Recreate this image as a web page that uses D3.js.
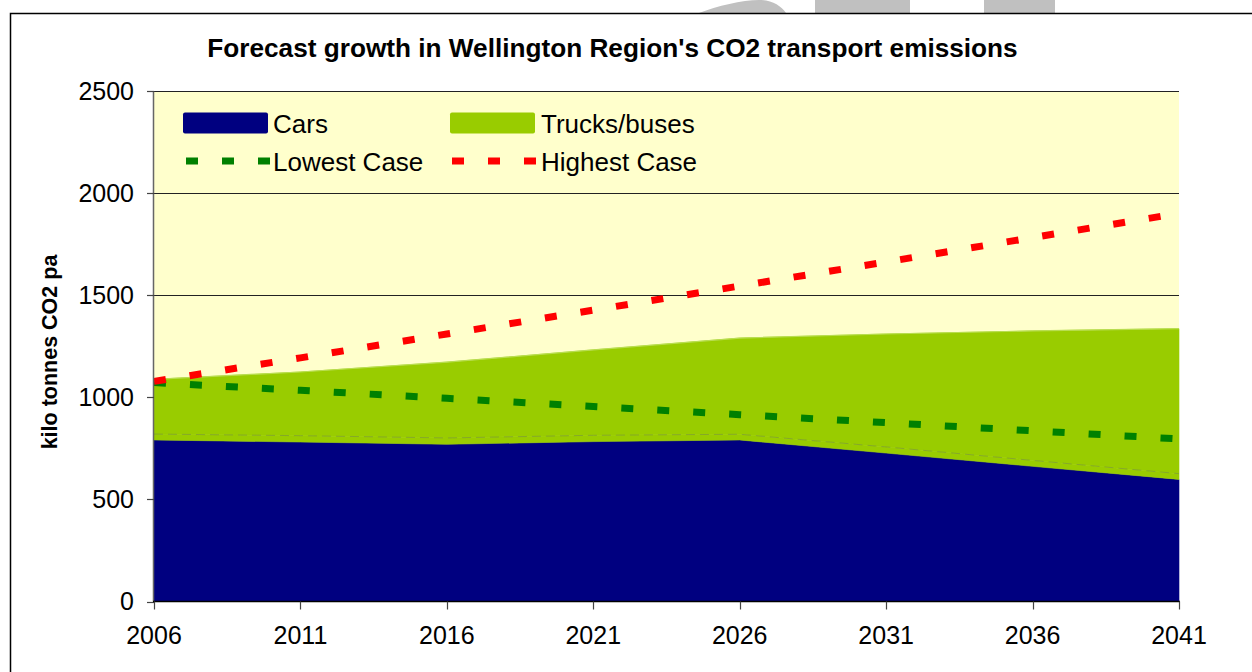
<!DOCTYPE html>
<html>
<head>
<meta charset="utf-8">
<script src="https://cdn.jsdelivr.net/npm/d3@7"></script>
<style>
  html, body { margin: 0; padding: 0; background: #fff; }
  svg { display: block; font-family: Arial, "Liberation Sans", sans-serif; }
</style>
</head>
<body>
<svg id="chart" width="1252" height="672"></svg>
<script>
// ---- data ----
const years = [2006, 2011, 2016, 2021, 2026, 2031, 2036, 2041];
const cars = [791, 781, 770, 783, 791, 727, 662, 598];
const buses = [29, 31, 31, 31, 28, 30, 29, 28];
const trucks = [268, 312, 371, 418, 471, 553, 634, 710];
const lowestCase = [1072, 1034, 995, 955, 915, 876, 836, 796];
const highestCase = [1078, 1193, 1310, 1427, 1545, 1663, 1782, 1901];
const yTicks = [0, 500, 1000, 1500, 2000, 2500];
const titleText = "Forecast growth in Wellington Region's CO2 transport emissions";
const yLabel = "kilo tonnes CO2 pa";
const legendItems = [
  { label: "Cars", type: "area", color: "#000080" },
  { label: "Trucks/buses", type: "area", color: "#99cc00" },
  { label: "Lowest Case", type: "dash", color: "#008000" },
  { label: "Highest Case", type: "dash", color: "#ff0000" }
];

(function () {
// ---- layout ----
const svg = d3.select("#chart");
const pL = 154, pR = 1179, pT = 91, pB = 601.5;
const x = d3.scaleLinear().domain([2006, 2041]).range([pL, pR]);
const y = d3.scaleLinear().domain([0, 2500]).range([pB, pT]);

// background decorative shapes behind frame (top)
svg.append("path")
  .attr("d", "M699,13 C717,6 742,0 759,0 C772,0 781,6 786,13 Z")
  .attr("fill", "#c0c0c0");
svg.append("rect").attr("x", 815).attr("y", 0).attr("width", 95).attr("height", 13).attr("fill", "#c0c0c0");
svg.append("rect").attr("x", 984).attr("y", 0).attr("width", 71).attr("height", 13).attr("fill", "#c0c0c0");

// outer frame
svg.append("rect").attr("x", 10.5).attr("y", 13.5).attr("width", 1260).attr("height", 700)
  .attr("fill", "#fff").attr("stroke", "#000").attr("stroke-width", 1.5);

// plot background
svg.append("rect").attr("x", pL).attr("y", pT).attr("width", pR - pL).attr("height", pB - pT)
  .attr("fill", "#ffffcc");

// gridlines
svg.append("g").selectAll("line").data(yTicks.filter(d => d > 0)).join("line")
  .attr("x1", pL).attr("x2", pR)
  .attr("y1", d => Math.round(y(d)) + 0.5).attr("y2", d => Math.round(y(d)) + 0.5)
  .attr("stroke", "#222").attr("stroke-width", 1);

// stacked areas
const rows = years.map((yr, i) => ({ year: yr, cars: cars[i], buses: buses[i], trucks: trucks[i] }));
const stack = d3.stack().keys(["cars", "buses", "trucks"]);
const series = stack(rows);
const colors = { cars: "#000080", buses: "#99cc00", trucks: "#99cc00" };
const area = d3.area()
  .x(d => x(d.data.year))
  .y0(d => y(d[0]))
  .y1(d => y(d[1]));
svg.append("g").selectAll("path").data(series).join("path")
  .attr("d", area)
  .attr("fill", d => colors[d.key])
  .attr("stroke", d => colors[d.key])
  .attr("stroke-width", 0.6);

// faint boundary between buses and trucks layers
const boundary = d3.line().x(d => x(d.data.year)).y(d => y(d[1]));
svg.append("path").datum(series[1]).attr("d", boundary)
  .attr("fill", "none").attr("stroke", "#7a9a35").attr("stroke-opacity", 0.7)
  .attr("stroke-width", 1).attr("stroke-dasharray", "9,5");
// light edge on top of total
svg.append("path").datum(series[2]).attr("d", boundary)
  .attr("fill", "none").attr("stroke", "#b8dd50").attr("stroke-width", 1.2);

// scenario lines
const line = d3.line().x((d, i) => x(years[i])).y(d => y(d));
svg.append("path").datum(lowestCase).attr("d", line)
  .attr("fill", "none").attr("stroke", "#008000").attr("stroke-width", 7)
  .attr("stroke-dasharray", "12,24");
svg.append("path").datum(highestCase).attr("d", line)
  .attr("fill", "none").attr("stroke", "#ff0000").attr("stroke-width", 7)
  .attr("stroke-dasharray", "12,24");

// axes
const yAxis = svg.append("g");
yAxis.append("line").attr("x1", pL - 0.5).attr("x2", pL - 0.5).attr("y1", pT).attr("y2", pB)
  .attr("stroke", "#666").attr("stroke-width", 1.5);
yAxis.selectAll("line.t").data(yTicks).join("line").attr("class", "t")
  .attr("x1", 147).attr("x2", pL)
  .attr("y1", d => Math.round(y(d)) + 0.5).attr("y2", d => Math.round(y(d)) + 0.5)
  .attr("stroke", "#444").attr("stroke-width", 1.2);
yAxis.selectAll("text").data(yTicks).join("text")
  .attr("x", 134).attr("y", d => y(d)).attr("dy", "0.35em")
  .attr("text-anchor", "end").attr("font-size", 25).attr("fill", "#000")
  .text(d => d);

const xAxis = svg.append("g");
xAxis.append("line").attr("x1", pL - 1).attr("x2", pR + 1).attr("y1", pB).attr("y2", pB)
  .attr("stroke", "#000").attr("stroke-width", 1.5);
xAxis.selectAll("line.t").data(years).join("line").attr("class", "t")
  .attr("x1", d => Math.round(x(d)) + 0.5).attr("x2", d => Math.round(x(d)) + 0.5)
  .attr("y1", pB).attr("y2", pB + 8)
  .attr("stroke", "#444").attr("stroke-width", 1.2);
xAxis.selectAll("text").data(years).join("text")
  .attr("x", d => x(d)).attr("y", 644)
  .attr("text-anchor", "middle").attr("font-size", 25).attr("fill", "#000")
  .text(d => d);

// title
svg.append("text").attr("x", 612.5).attr("y", 57)
  .attr("text-anchor", "middle").attr("font-size", 26.2).attr("font-weight", "bold")
  .text(titleText);

// y label
svg.append("text").attr("transform", "translate(57,352) rotate(-90)")
  .attr("text-anchor", "middle").attr("font-size", 21.5).attr("font-weight", "bold")
  .text(yLabel);

// legend
const legendPos = [
  { sx: 183, tx: 273, cy: 123 },
  { sx: 450, tx: 541, cy: 123 },
  { sx: 186, tx: 273, cy: 161 },
  { sx: 452, tx: 541, cy: 161 }
];
const lg = svg.append("g");
legendItems.forEach((it, i) => {
  const p = legendPos[i];
  if (it.type === "area") {
    lg.append("rect").attr("x", p.sx).attr("y", p.cy - 10.5).attr("width", 85).attr("height", 21)
      .attr("rx", 2).attr("fill", it.color);
  } else {
    lg.append("line").attr("x1", p.sx).attr("x2", p.sx + 84).attr("y1", p.cy).attr("y2", p.cy)
      .attr("stroke", it.color).attr("stroke-width", 7).attr("stroke-dasharray", "12,24");
  }
  lg.append("text").attr("x", p.tx).attr("y", p.cy + 9.5).attr("font-size", 26).attr("fill", "#000")
    .text(it.label);
});
})();
</script>
</body>
</html>
